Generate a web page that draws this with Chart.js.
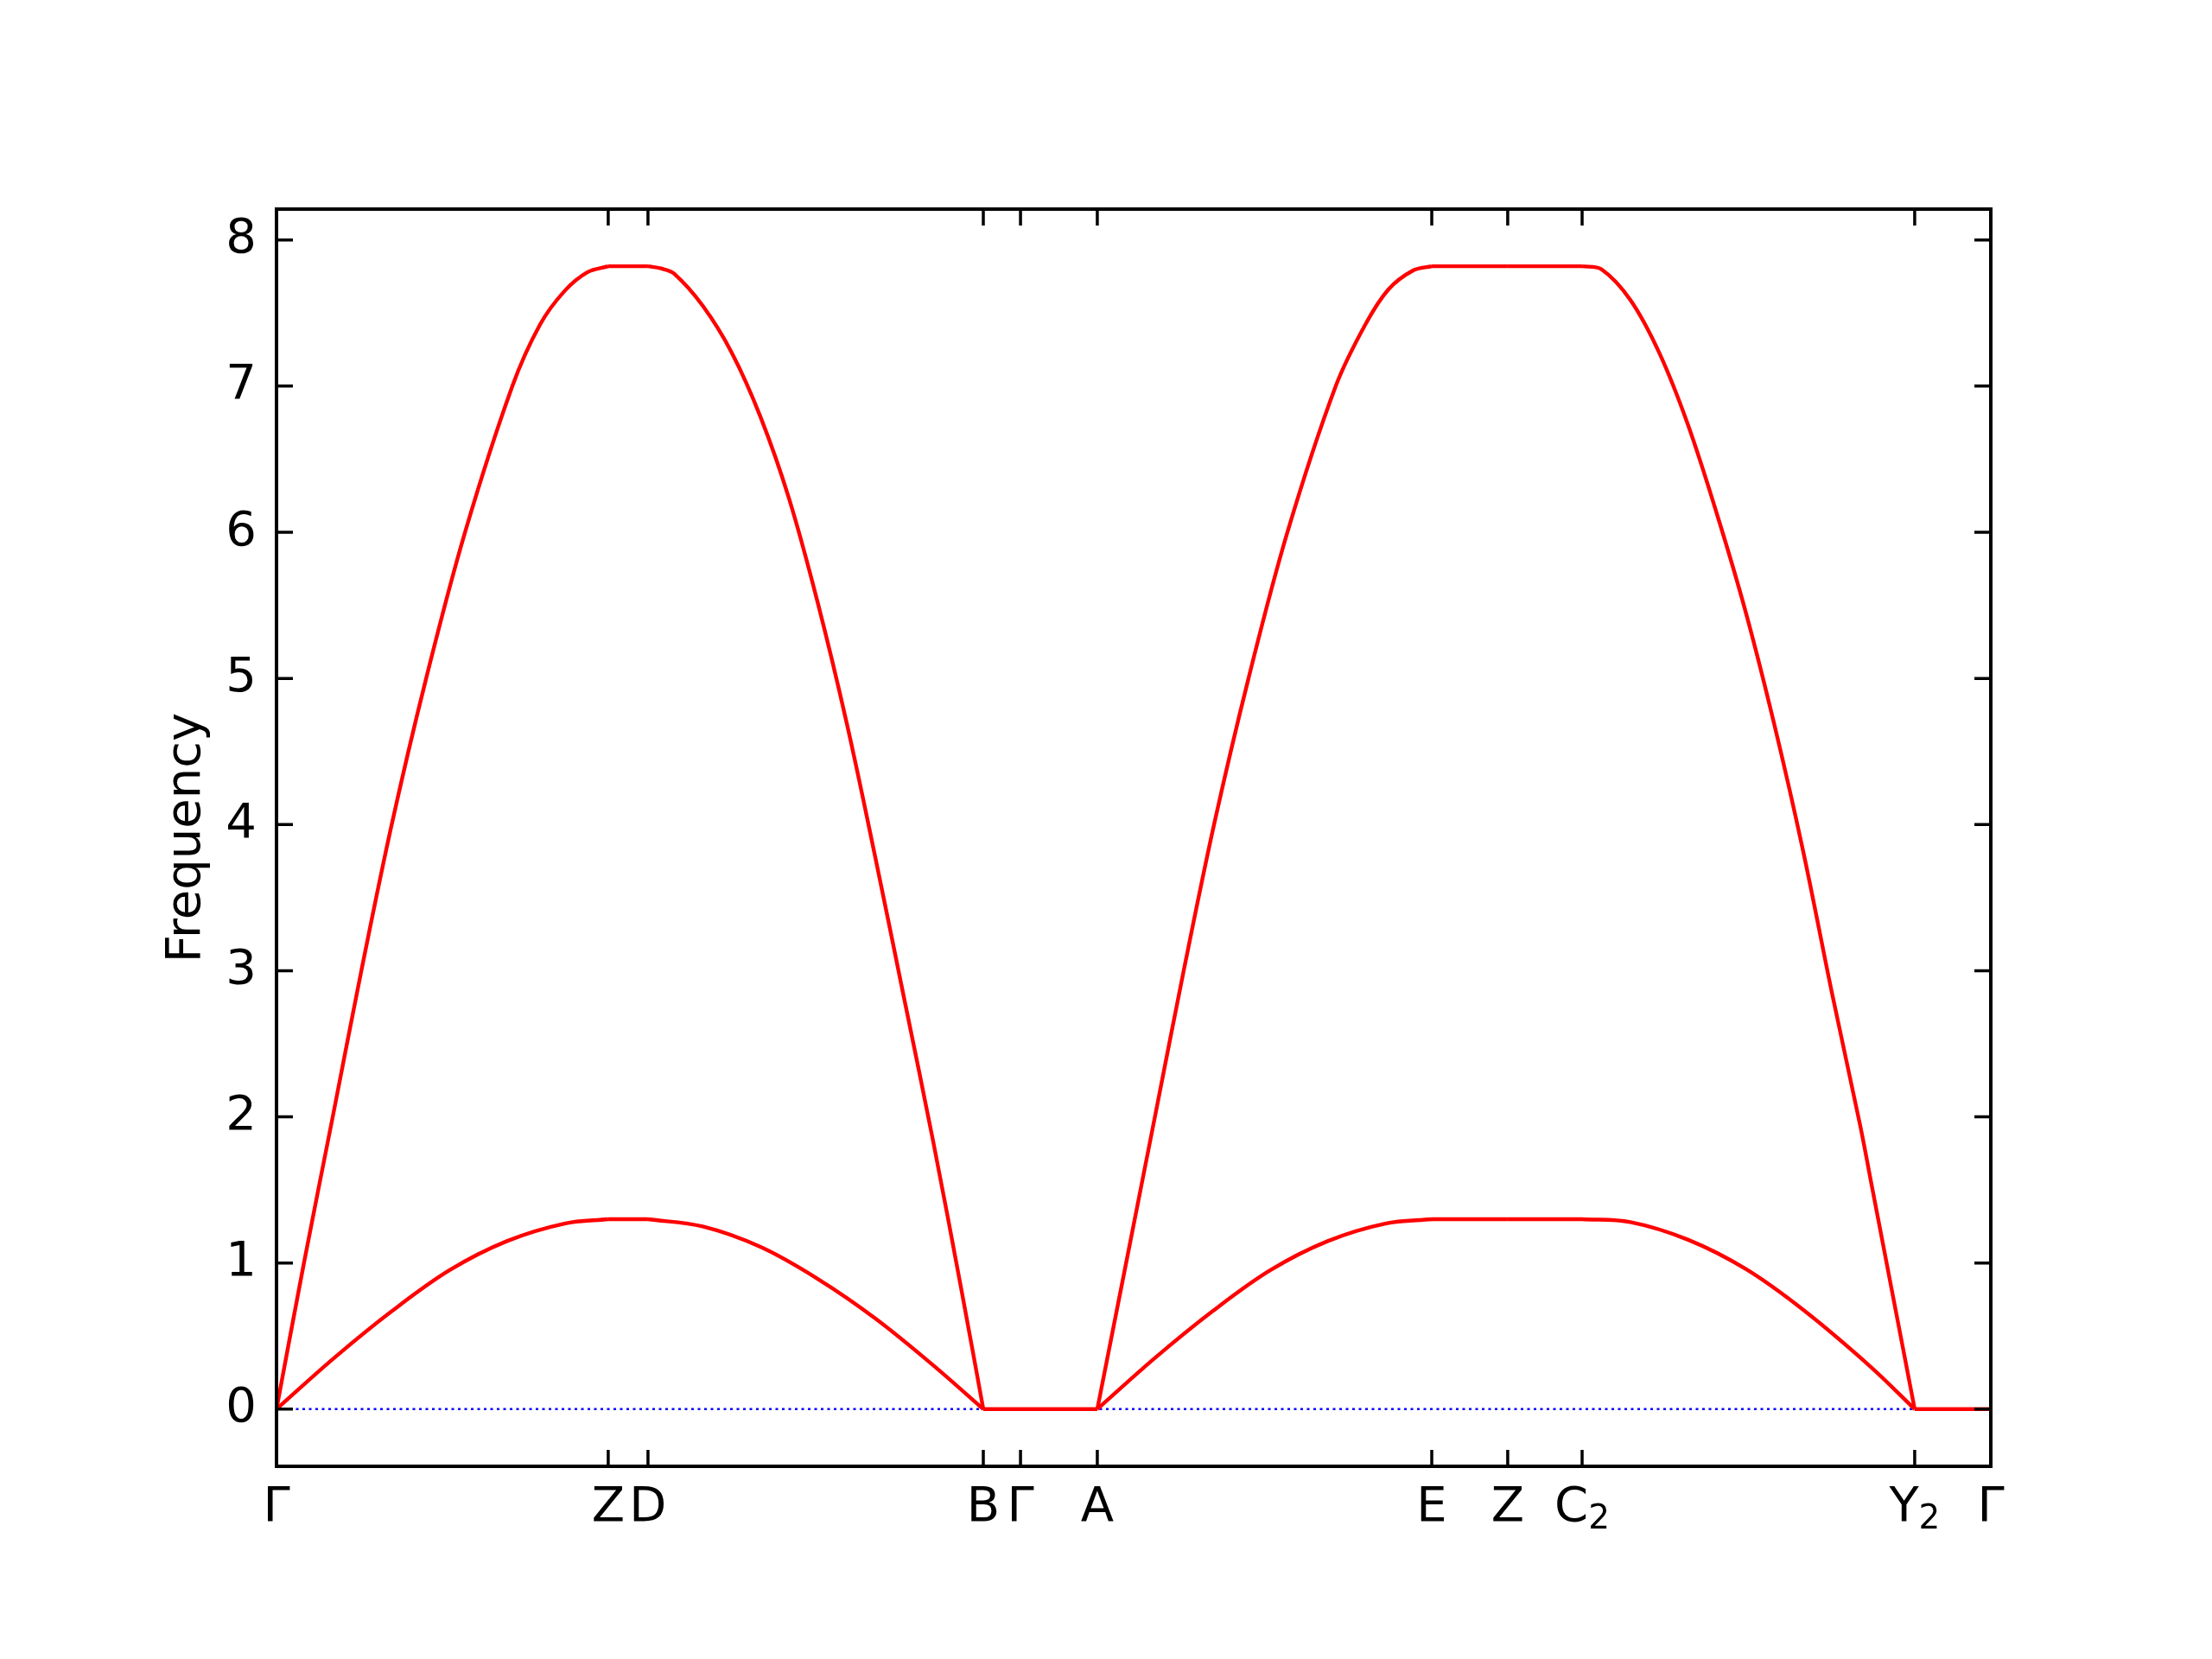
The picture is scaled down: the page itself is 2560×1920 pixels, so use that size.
<!DOCTYPE html>
<html>
<head>
<meta charset="utf-8">
<title>Frequency</title>
<script src="https://cdn.jsdelivr.net/npm/chart.js@4.4.0/dist/chart.umd.min.js"></script>
<style>
  html, body { margin: 0; padding: 0; background: #fff; }
  #wrap { width: 2560px; height: 1920px; }
</style>
</head>
<body>
<div id="wrap"><canvas id="myChart" width="2560" height="1920"></canvas></div>
<script>
const ctx = document.getElementById("myChart");

// puntos de alta simetria (posicion en el camino) y sus etiquetas
const kPos = [0, 0.1935, 0.2167, 0.4123, 0.4340, 0.4788, 0.6739, 0.7182, 0.7616, 0.9556, 1];
const kLabels = ["Γ", "Z", "D", "B", "Γ", "A", "E", "Z", "C_2", "Y_2", "Γ"];
const yTicks = [0, 1, 2, 3, 4, 5, 6, 7, 8];

// banda superior
const upperK = [
  0, 0.0160, 0.0328, 0.0495, 0.0672, 0.0873, 0.1100, 0.1376, 0.1537, 0.1680, 0.1815, 0.1935,
  0.2167,
  0.2243, 0.2319, 0.2486, 0.2655, 0.2823, 0.2990, 0.3159, 0.3327, 0.3494, 0.3663, 0.3831, 0.3998, 0.4123,
  0.4340, 0.4788,
  0.4956, 0.5124, 0.5292, 0.5469, 0.5670, 0.5897, 0.6179, 0.6351, 0.6485, 0.6628, 0.6739,
  0.7182, 0.7616,
  0.7728, 0.7897, 0.8065, 0.8232, 0.8401, 0.8569, 0.8736, 0.8905, 0.9073, 0.9240, 0.9299, 0.9425, 0.9556,
  1
];
const upperF = [
  0, 1.0, 2.0, 3.0, 4.0, 5.0, 6.0, 7.0, 7.42, 7.65, 7.78, 7.82,
  7.82,
  7.805, 7.77, 7.55, 7.23, 6.79, 6.23, 5.51, 4.69, 3.77, 2.80, 1.83, 0.80, 0,
  0, 0,
  1.0, 2.0, 3.0, 4.0, 5.0, 6.0, 7.0, 7.42, 7.66, 7.79, 7.82,
  7.82, 7.82,
  7.80, 7.59, 7.23, 6.74, 6.13, 5.46, 4.69, 3.82, 2.85, 1.93, 1.57, 0.80, 0,
  0
];

// banda inferior
const lowerK = [
  0, 0.0336, 0.0672, 0.1008, 0.1344, 0.1680, 0.1935,
  0.2167, 0.2486, 0.2823, 0.3159, 0.3494, 0.3831, 0.4123,
  0.4340, 0.4788,
  0.5124, 0.5460, 0.5796, 0.6132, 0.6468, 0.6739,
  0.7182, 0.7616, 0.7897, 0.8232, 0.8569, 0.8905, 0.9299, 0.9556,
  1
];
const lowerF = [
  0, 0.35, 0.67, 0.95, 1.15, 1.27, 1.30,
  1.30, 1.25, 1.11, 0.89, 0.62, 0.30, 0,
  0, 0,
  0.35, 0.67, 0.95, 1.15, 1.27, 1.30,
  1.30, 1.30, 1.28, 1.16, 0.96, 0.68, 0.29, 0,
  0
];

// linea punteada en cero
const zeroK = [0, 1];
const zeroF = [0, 0];

const FONT = "DejaVu Sans";

// corta una banda en tramos entre puntos de alta simetria (esquinas sin suavizar)
function tramos(xs, ys, label) {
  const out = [];
  for (let s = 0; s < kPos.length - 1; s++) {
    const a = kPos[s] - 1e-6, b = kPos[s + 1] + 1e-6;
    const data = [];
    xs.forEach((x, i) => { if (x >= a && x <= b) data.push({ x, y: ys[i] }); });
    if (data.length < 2) continue;
    out.push({
      label: `${label} ${s}`,
      data,
      borderColor: "rgb(255, 0, 0)",
      borderWidth: 4.4,
      tension: 0.35,
      pointRadius: 0,
      order: 1,
    });
  }
  return out;
}

// ticks hacia adentro, marco y etiquetas del eje x (con subindices)
const marcoPlugin = {
  id: "marco",
  afterDatasetsDraw(chart) {
    const { ctx, chartArea: a, scales: { x, y } } = chart;
    ctx.save();
    ctx.strokeStyle = "#000";
    ctx.lineWidth = 3.5;
    ctx.beginPath();
    yTicks.forEach((v) => {
      const py = y.getPixelForValue(v);
      ctx.moveTo(a.left, py);
      ctx.lineTo(a.left + 19, py);
      ctx.moveTo(a.right, py);
      ctx.lineTo(a.right - 19, py);
    });
    kPos.forEach((v) => {
      const px = x.getPixelForValue(v);
      ctx.moveTo(px, a.bottom);
      ctx.lineTo(px, a.bottom - 19);
      ctx.moveTo(px, a.top);
      ctx.lineTo(px, a.top + 19);
    });
    ctx.stroke();
    ctx.lineWidth = 4;
    ctx.strokeRect(a.left, a.top, a.right - a.left, a.bottom - a.top);

    ctx.fillStyle = "#000";
    ctx.textBaseline = "alphabetic";
    ctx.textAlign = "left";
    const base = a.bottom + 63;
    kLabels.forEach((lab, i) => {
      const [main, sub] = lab.split("_");
      ctx.font = `56px "${FONT}"`;
      const wMain = ctx.measureText(main).width;
      let wSub = 0;
      if (sub) {
        ctx.font = `39px "${FONT}"`;
        wSub = ctx.measureText(sub).width;
      }
      const x0 = x.getPixelForValue(kPos[i]) - (wMain + wSub) / 2;
      ctx.font = `56px "${FONT}"`;
      ctx.fillText(main, x0, base);
      if (sub) {
        ctx.font = `39px "${FONT}"`;
        ctx.fillText(sub, x0 + wMain, base + 9);
      }
    });
    ctx.restore();
  },
};

const miChart = new Chart(ctx, {
  type: "line",
  data: {
    datasets: [
      ...tramos(upperK, upperF, "banda superior"),
      ...tramos(lowerK, lowerF, "banda inferior"),
      {
        label: "cero",
        data: zeroK.map((x, i) => ({ x, y: zeroF[i] })),
        borderColor: "rgb(0, 0, 255)",
        borderWidth: 2.5,
        borderDash: [3, 4.5],
        pointRadius: 0,
        order: 2,
      },
    ],
  },
  options: {
    responsive: false,
    animation: false,
    devicePixelRatio: 1,
    layout: { padding: { left: 0, top: 242, right: 256, bottom: 123 } },
    plugins: { legend: { display: false }, tooltip: { enabled: false } },
    scales: {
      x: {
        type: "linear",
        min: 0,
        max: 1,
        grid: { display: false },
        border: { display: false },
        ticks: { display: false },
        afterFit: (scale) => { scale.height = 100; },
      },
      y: {
        type: "linear",
        min: -0.391,
        max: 8.211,
        grid: { display: false, drawTicks: false },
        border: { display: false },
        afterBuildTicks: (scale) => { scale.ticks = yTicks.map((v) => ({ value: v })); },
        afterFit: (scale) => { scale.width = 320; },
        ticks: {
          padding: 23,
          color: "#000",
          font: { family: FONT, size: 56 },
          callback: (v) => String(v),
        },
        title: {
          display: true,
          text: "Frequency",
          color: "#000",
          font: { family: FONT, size: 56 },
          padding: { top: 183, bottom: 0 },
        },
      },
    },
  },
  plugins: [marcoPlugin],
});
</script>
</body>
</html>
